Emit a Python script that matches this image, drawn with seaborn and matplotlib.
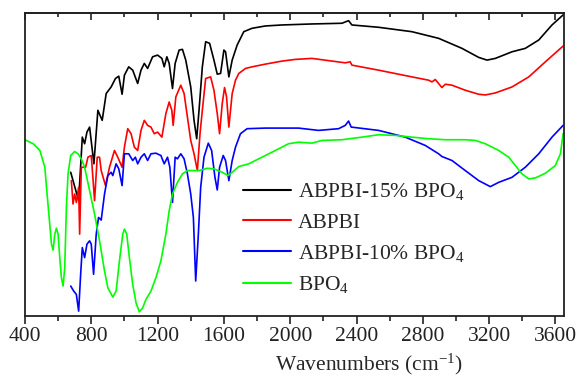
import pandas as pd
import matplotlib
matplotlib.use("Agg")
import matplotlib.pyplot as plt
from matplotlib.ticker import MultipleLocator
import seaborn as sns

# ABPBI-15% BPO4 (black)
wn_15 = [676, 724, 746, 760, 774, 790, 816, 840, 866, 890, 920, 946, 966, 986, 1000, 1026, 1050, 1080,
         1100, 1120, 1140, 1170, 1200, 1226, 1240, 1256, 1270, 1290, 1306, 1330, 1350, 1370, 1400, 1420,
         1436, 1450, 1470, 1490, 1514, 1540, 1560, 1580, 1600, 1610, 1630, 1650, 1680, 1720, 1770, 1850,
         1950, 2131, 2312, 2352, 2372, 2533, 2734, 2895, 3036, 3137, 3187, 3237, 3338, 3418, 3499, 3579, 3646]
t_15 = [143.3, 115, 178.3, 171.7, 183.3, 188.3, 151.7, 205, 195, 221.7, 228.3, 236.7, 239, 221, 240, 248.3,
        245, 231.7, 245, 251.7, 246.7, 258.3, 260, 256.7, 248.3, 258.3, 251.7, 226.7, 251.7, 265, 265.7, 255,
        228.3, 195, 176.7, 205, 248.3, 273.3, 271.7, 255, 241, 241.7, 265, 263.3, 238.3, 255, 270, 283.3,
        286.7, 289, 290, 291, 291.7, 294.3, 290, 287.7, 283.3, 276.7, 266.7, 257.7, 255, 256.7, 263.3,
        266.7, 275, 290, 300]

# ABPBI (red)
wn_0 = [680, 690, 700, 710, 724, 730, 740, 766, 780, 800, 820, 836, 850, 860, 886, 910, 940, 960, 986,
        1000, 1020, 1040, 1060, 1080, 1100, 1120, 1140, 1160, 1180, 1200, 1226, 1250, 1270, 1286, 1294,
        1310, 1340, 1360, 1380, 1400, 1420, 1440, 1456, 1470, 1490, 1520, 1540, 1560, 1574, 1590, 1604,
        1616, 1630, 1650, 1670, 1690, 1730, 1770, 1850, 1950, 2030, 2131, 2332, 2362, 2372, 2533, 2734,
        2835, 2855, 2875, 2915, 2936, 2976, 3056, 3137, 3177, 3237, 3338, 3439, 3539, 3646]
t_0 = [135, 111.7, 121.7, 113.3, 128.3, 81.7, 148.3, 148.3, 158.3, 160, 115, 158.3, 158.3, 145, 130, 148.3,
       165, 158.3, 148.3, 168.3, 186.7, 181.7, 168.3, 165, 185, 195, 190, 188.3, 181.7, 183.3, 178.3, 201.7,
       213.3, 205, 190, 218.3, 230, 221.7, 198.3, 175, 161.7, 145, 181.7, 205, 236.7, 238.3, 225, 201.7,
       181.7, 211.7, 227.7, 218.3, 188.3, 221.7, 235, 241.7, 246.7, 248.3, 251, 254, 255.7, 256.7, 252.3,
       253.3, 250, 245, 238.3, 235, 233.3, 235.7, 227.7, 231, 230, 225, 221, 220.3, 222.3, 228.3, 238.3,
       253.3, 269]

# ABPBI-10% BPO4 (blue)
wn_10 = [676, 694, 710, 724, 736, 746, 760, 774, 790, 800, 814, 830, 844, 860, 880, 900, 920, 930, 950,
         966, 986, 1000, 1026, 1050, 1066, 1080, 1100, 1120, 1140, 1160, 1190, 1220, 1240, 1260, 1274,
         1290, 1306, 1320, 1340, 1360, 1380, 1400, 1416, 1430, 1446, 1460, 1480, 1506, 1526, 1546, 1560,
         1574, 1596, 1610, 1630, 1650, 1670, 1700, 1740, 1850, 2050, 2171, 2292, 2332, 2352, 2368, 2533,
         2694, 2815, 2895, 2915, 2976, 3056, 3137, 3207, 3258, 3338, 3418, 3499, 3579, 3646]
t_10 = [30, 25, 21.7, 5, 41.7, 68.3, 58.3, 71.7, 75, 71.7, 41.7, 81.7, 98.3, 95.7, 121.7, 140, 143.3, 140,
        151.7, 146.7, 130, 161.7, 161.7, 155, 158.3, 151.7, 158.3, 161.7, 155, 161.7, 162.3, 160, 151.7,
        158.3, 148.3, 113.3, 158.3, 156.7, 161.7, 156.7, 141.7, 121.7, 98.3, 35, 81.7, 128.3, 158.3, 172.3,
        165, 138.3, 125.7, 148.3, 160, 155, 135, 155, 168.3, 181.7, 186.7, 187.3, 187.3, 185, 186.7, 190,
        194.3, 188.3, 185, 178.3, 170, 161.7, 159, 155, 145, 135, 129, 133.3, 138.3, 148.3, 161.7, 178.3, 190]

# BPO4 (green)
wn_bpo4 = [400, 450, 490, 520, 530, 546, 560, 570, 580, 590, 600, 610, 620, 630, 640, 650, 660, 676, 700,
           720, 740, 760, 790, 820, 850, 880, 900, 930, 950, 970, 990, 1000, 1014, 1030, 1050, 1070, 1090,
           1110, 1130, 1160, 1190, 1220, 1250, 1270, 1290, 1320, 1350, 1380, 1450, 1500, 1540, 1590, 1626,
           1650, 1690, 1750, 1810, 1890, 1990, 2050, 2131, 2191, 2312, 2433, 2533, 2634, 2734, 2835, 2936,
           3056, 3117, 3177, 3258, 3318, 3358, 3398, 3439, 3479, 3539, 3599, 3630, 3646]
t_bpo4 = [175.7, 171.7, 165, 148.3, 128.3, 98.3, 71.7, 65.7, 81.7, 87.7, 81.7, 58.3, 38.3, 30, 48.3, 108.3,
          141.7, 160, 164, 161.7, 156.7, 148.3, 125, 101.7, 75, 45, 28.3, 19, 25, 55, 81.7, 86.7, 81.7, 58.3,
          31.7, 13.3, 4.3, 8.3, 16.7, 25, 38.3, 55, 81.7, 105, 121.7, 133.3, 141.7, 145, 145, 147.3, 146.7,
          143.3, 140, 143.3, 149, 151.7, 156.7, 163.3, 171.7, 173.3, 172.3, 175, 175.7, 178.3, 180.7, 180,
          178.3, 176.7, 175.7, 175.7, 175, 171.7, 165, 158.3, 150, 141.7, 136.7, 137.7, 142.3, 150, 161.7, 181.7]

series = [
    ("ABPBI-15% BPO$_4$", wn_15, t_15, "#000000"),
    ("ABPBI", wn_0, t_0, "#ff0000"),
    ("ABPBI-10% BPO$_4$", wn_10, t_10, "#0000ff"),
    ("BPO$_4$", wn_bpo4, t_bpo4, "#00ff00"),
]

sns.set_style("ticks")
plt.rcParams["font.family"] = ["Liberation Serif", "DejaVu Serif"]
plt.rcParams["mathtext.fontset"] = "custom"
plt.rcParams["mathtext.rm"] = "Liberation Serif"
plt.rcParams["mathtext.it"] = "Liberation Serif:italic"

fig = plt.figure(figsize=(5.8, 3.8), dpi=100)
ax = fig.add_axes([0.043, 0.168, 0.929, 0.798])

for name, wn, t, col in series:
    df = pd.DataFrame({"wn": wn, "t": t})
    sns.lineplot(data=df, x="wn", y="t", color=col, lw=1.2, label=name,
                 estimator=None, sort=False, ax=ax)

ax.set_xlim(400, 3650)
ax.set_ylim(0, 302)
ax.xaxis.set_major_locator(MultipleLocator(400))
ax.xaxis.set_minor_locator(MultipleLocator(200))
ax.set_yticks([])
ax.tick_params(axis="x", which="both", direction="out", labelsize=15.5, colors="#222222", width=1.2)
ax.tick_params(axis="x", which="major", length=6, pad=2)
ax.tick_params(axis="x", which="minor", length=3.5)
for sp in ax.spines.values():
    sp.set_linewidth(1.3)
    sp.set_color("#222222")

# top axis: ticks pointing in, no labels
top = ax.secondary_xaxis("top")
top.xaxis.set_major_locator(MultipleLocator(400))
top.xaxis.set_minor_locator(MultipleLocator(200))
top.tick_params(which="both", direction="in", labeltop=False, colors="#222222", width=1.2)
top.tick_params(which="major", length=5)
top.tick_params(which="minor", length=3)
top.spines["top"].set_linewidth(1.3)

ax.set_xlabel("Wavenumbers (cm$^{-1}$)", fontsize=15.5)
ax.xaxis.set_label_coords(0.638, -0.118)
ax.set_ylabel("")

leg = ax.legend(loc="upper left", bbox_to_anchor=(0.404, 0.445), frameon=False, fontsize=15.5,
                handlelength=2.25, handletextpad=0.3, labelspacing=0.48, borderpad=0, borderaxespad=0)
for line in leg.get_lines():
    line.set_linewidth(1.5)

fig.savefig("out.png", dpi=100)
